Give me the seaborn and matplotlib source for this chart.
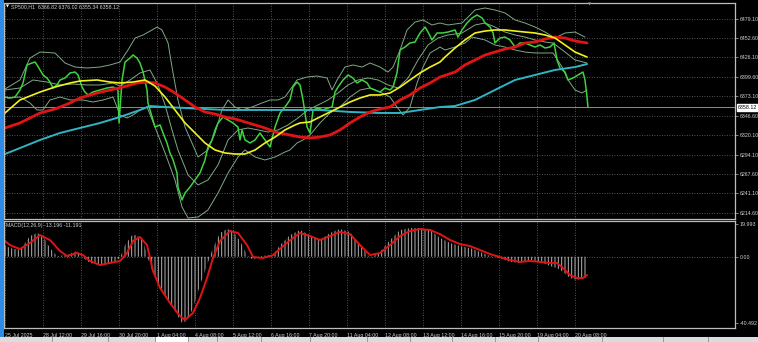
import matplotlib
matplotlib.use("Agg")
import matplotlib.pyplot as plt
import matplotlib.transforms as mtransforms
from matplotlib.patches import Rectangle
import seaborn as sns

# ---------------- data (bar index = hourly bar number since 25 Jul 2025) ----------------
price_bar = [0, 3.7, 7.4, 11, 13.3, 16.2, 19.9, 22.1, 23.6, 25.8, 28, 30.9, 33.1, 35.4, 38.3, 40.5, 44.2,
             47.9, 51.6, 53.8, 56.7, 58.9, 61.1, 64.8, 70, 75.1, 79.6, 83.2, 84, 86.2, 88.4, 92.1, 94.3,
             97.2, 99.4, 101.7, 104.6, 105.3, 108.3, 110.5, 114.2, 116.4, 119.3, 121.5, 123.8, 126.7,
             127.4, 130.4, 132.6, 136.3, 140, 143.6, 147.3, 149.5, 152.5, 154.7, 156.9, 160.6, 164.3,
             167.9, 171.6, 173.1, 174.6, 176.8, 180.5, 184.2, 187.8, 191.5, 195.2, 198.9, 202.6, 206.2,
             209.9, 212.1, 215.1, 217.3, 219.5, 222.5, 224.7, 226.9, 230.6, 234.2, 237.9, 240.9, 243.1,
             245.3, 249, 252.7, 256.3, 259.3, 263, 266.7, 268.9, 272.5, 276.2, 279.9, 283.6, 285.8,
             288.7, 291, 294.6, 298.3, 302, 305.7, 309.4, 311.6, 314.5, 318.2, 321.9, 326.3, 331.5,
             333.7, 336.6, 340.3, 344, 347.7, 351.4, 353.6, 357.3, 359.5, 360.9, 364.6, 368.3, 372,
             375.7, 379.3, 383, 386.7, 390.4, 394.1, 397.8, 401.4, 404.4, 406.6, 408.8, 412.5, 414.7,
             418.4, 422.1, 425.7, 427.2, 428.7, 429.4]
price_val = [6372.3, 6371.0, 6372.3, 6381.9, 6391.4, 6415.9, 6418.6, 6419.9, 6415.9, 6409.1, 6402.3,
             6398.2, 6392.7, 6384.6, 6388.7, 6395.5, 6398.2, 6405.0, 6406.3, 6402.3, 6385.9, 6379.1,
             6375.1, 6379.1, 6381.9, 6384.6, 6385.9, 6381.9, 6337.0, 6395.5, 6419.9, 6425.4, 6429.5,
             6425.4, 6418.6, 6406.3, 6381.9, 6364.2, 6345.2, 6331.5, 6334.3, 6323.4, 6309.8, 6296.2,
             6286.7, 6269.0, 6249.9, 6232.3, 6241.8, 6249.9, 6259.5, 6269.0, 6286.7, 6304.3, 6313.9,
             6327.5, 6337.0, 6345.2, 6341.1, 6337.0, 6331.5, 6313.9, 6327.5, 6313.9, 6309.8, 6313.9,
             6323.4, 6313.9, 6304.3, 6331.5, 6350.6, 6358.7, 6368.3, 6385.9, 6392.7, 6388.7, 6368.3,
             6331.5, 6323.4, 6354.7, 6357.4, 6354.7, 6357.4, 6358.7, 6379.1, 6385.9, 6395.5, 6402.3,
             6398.2, 6391.4, 6395.5, 6391.4, 6384.6, 6381.9, 6379.1, 6384.6, 6381.9, 6385.9, 6405.0,
             6436.3, 6440.3, 6445.8, 6447.1, 6459.4, 6467.5, 6460.7, 6449.9, 6459.4, 6459.4, 6460.7,
             6463.5, 6453.9, 6463.5, 6473.0, 6479.8, 6483.9, 6479.8, 6473.0, 6467.5, 6459.4, 6445.8,
             6452.6, 6453.9, 6449.9, 6440.3, 6445.8, 6445.8, 6443.1, 6440.3, 6443.1, 6439.0, 6440.3,
             6445.8, 6422.7, 6411.8, 6406.3, 6395.5, 6398.2, 6402.3, 6406.3, 6395.5, 6372.3, 6358.12]

yellow_bar = [0, 11, 25.8, 36.8, 47.9, 55.2, 67.8, 77.3, 84.7, 94.3, 103.1, 110.5, 117.9, 125.2, 132.6,
              140, 147.3, 154.7, 162.1, 169.4, 176.8, 184.2, 191.5, 198.9, 206.2, 213.6, 217.3, 224.7,
              232, 239.4, 246.8, 254.1, 261.5, 268.9, 276.2, 283.6, 291, 298.3, 305.7, 313.1, 320.4,
              324.1, 331.5, 338.8, 346.2, 353.6, 360.9, 368.3, 375.7, 383, 390.4, 397.8, 405.1, 412.5,
              419.9, 428.7]
yellow_val = [6350.6, 6368.3, 6379.1, 6385.9, 6391.4, 6394.1, 6395.5, 6392.7, 6391.4, 6392.7, 6395.5,
              6387.3, 6372.3, 6354.7, 6337.0, 6323.4, 6309.8, 6300.3, 6296.2, 6294.8, 6294.8, 6300.3,
              6309.8, 6317.9, 6327.5, 6334.3, 6337.0, 6338.4, 6345.2, 6352.0, 6358.7, 6365.5, 6371.0,
              6375.1, 6375.1, 6377.8, 6385.9, 6395.5, 6405.0, 6413.1, 6419.9, 6426.7, 6439.0, 6449.9,
              6459.4, 6462.1, 6463.5, 6463.5, 6462.1, 6460.7, 6459.4, 6456.7, 6452.6, 6443.1, 6433.5,
              6426.7]

red_bar = [0, 11, 25.8, 36.8, 47.9, 55.2, 67.8, 77.3, 86.9, 97.2, 104.6, 110.5, 117.9, 125.2, 132.6,
           140, 147.3, 154.7, 162.1, 169.4, 176.8, 184.2, 191.5, 198.9, 206.2, 213.6, 217.3, 224.7, 232,
           239.4, 246.8, 254.1, 261.5, 268.9, 276.2, 283.6, 291, 298.3, 305.7, 313.1, 320.4, 331.5,
           338.8, 346.2, 353.6, 360.9, 368.3, 375.7, 383, 390.4, 397.8, 405.1, 412.5, 419.9, 428.7]
red_val = [6330.2, 6337.0, 6350.6, 6356.0, 6364.2, 6371.0, 6377.8, 6381.9, 6385.9, 6391.4, 6392.7,
           6391.4, 6385.9, 6377.8, 6368.3, 6358.7, 6352.0, 6349.2, 6345.2, 6342.5, 6338.4, 6334.3,
           6330.2, 6324.7, 6322.0, 6319.3, 6317.9, 6316.6, 6317.9, 6320.7, 6327.5, 6337.0, 6345.2,
           6352.0, 6356.0, 6358.7, 6368.3, 6375.1, 6384.6, 6391.4, 6399.5, 6406.3, 6415.9, 6422.7,
           6429.5, 6433.5, 6437.6, 6440.3, 6445.8, 6447.1, 6451.2, 6453.9, 6452.6, 6448.5, 6445.8]

cyan_bar = [0, 11, 25.8, 40.5, 55.2, 70, 84.7, 99.4, 106.8, 117.9, 132.6, 147.3, 162.1, 191.5, 213.6,
            232, 254.1, 276.2, 291, 305.7, 320.4, 331.5, 346.2, 360.9, 375.7, 390.4, 405.1, 419.9, 428.7]
cyan_val = [6294.8, 6302.9, 6313.9, 6323.4, 6330.2, 6337.0, 6345.2, 6354.7, 6360.1, 6358.7, 6357.4,
            6356.0, 6354.7, 6354.7, 6354.7, 6354.7, 6352.0, 6350.6, 6350.6, 6354.7, 6358.7, 6360.1,
            6368.3, 6381.9, 6395.5, 6402.3, 6409.1, 6413.1, 6417.2]

bb_up_bar = [0, 11, 18.4, 25.8, 36.8, 44.2, 51.6, 60.4, 70, 77.3, 84.7, 90.6, 95.8, 101.7, 108.3, 112,
             115.6, 120.1, 123, 127.4, 132.6, 137.7, 142.2, 149.5, 154.7, 159.8, 164.3, 169.4, 174.6,
             181.9, 189.3, 195.2, 201.1, 206.2, 215.1, 222.5, 229.8, 237.2, 240.9, 244.6, 250.4, 256.3,
             263, 268.9, 276.2, 282.1, 285.8, 291, 296.1, 302, 307.9, 314.5, 320.4, 326.3, 336.6, 341.1,
             346.2, 353.6, 360.9, 368.3, 375.7, 383, 390.4, 397.8, 405.1, 412.5, 419.9, 427.2]
bb_up_val = [6383.2, 6395.5, 6425.4, 6433.5, 6432.2, 6418.6, 6413.1, 6411.8, 6413.1, 6415.9, 6419.9,
             6436.3, 6452.6, 6456.7, 6463.5, 6467.5, 6463.5, 6445.8, 6413.1, 6368.3, 6331.5, 6309.8,
             6290.7, 6300.3, 6323.4, 6354.7, 6368.3, 6358.7, 6354.7, 6358.7, 6364.2, 6368.3, 6368.3,
             6372.3, 6395.5, 6399.5, 6400.9, 6398.2, 6381.9, 6395.5, 6413.1, 6415.9, 6413.1, 6418.6,
             6413.1, 6406.3, 6413.1, 6436.3, 6463.5, 6474.3, 6477.1, 6470.3, 6473.0, 6470.3, 6473.0,
             6481.1, 6490.7, 6493.4, 6490.7, 6486.6, 6477.1, 6473.0, 6467.5, 6460.7, 6452.6, 6459.4,
             6460.7, 6453.9]

bb_mid_bar = [0, 11, 20.6, 30.9, 40.5, 50.1, 60.4, 70, 79.6, 84.7, 92.1, 99.4, 106.8, 112.7, 117.9,
              123, 127.4, 134.8, 142.2, 149.5, 156.9, 164.3, 171.6, 179, 186.4, 193.7, 201.1, 208.4,
              215.8, 223.2, 230.6, 237.9, 245.3, 252.7, 260, 267.4, 274.8, 282.1, 289.5, 296.9, 304.2,
              311.6, 319, 326.3, 336.6, 346.2, 353.6, 360.9, 368.3, 375.7, 383, 390.4, 397.8, 403.7,
              412.5, 419.9, 428.7]
bb_mid_val = [6381.9, 6384.6, 6395.5, 6392.7, 6388.7, 6390.0, 6388.7, 6388.7, 6391.4, 6387.3, 6395.5,
              6405.0, 6409.1, 6388.7, 6361.5, 6327.5, 6300.3, 6266.3, 6252.7, 6259.5, 6279.9, 6313.9,
              6327.5, 6330.2, 6327.5, 6324.7, 6327.5, 6334.3, 6343.8, 6354.7, 6361.5, 6368.3, 6377.8,
              6388.7, 6395.5, 6398.2, 6395.5, 6388.7, 6384.6, 6398.2, 6422.7, 6443.1, 6452.6, 6456.7,
              6459.4, 6470.3, 6473.0, 6467.5, 6460.7, 6456.7, 6453.9, 6449.9, 6447.1, 6445.8, 6433.5,
              6422.7, 6418.6]

bb_lo_bar = [1.5, 11, 18.4, 23.6, 28, 33.1, 40.5, 47.9, 57.5, 64.8, 72.2, 79.6, 84.7, 89.9, 94.3, 99.4,
             104.6, 110.5, 117.9, 125.2, 130.4, 134.8, 142.2, 149.5, 156.9, 164.3, 171.6, 176.8, 184.2,
             191.5, 198.9, 206.2, 209.9, 215.1, 219.5, 224.7, 232, 239.4, 246.8, 254.1, 261.5, 268.9,
             276.2, 283.6, 288.7, 293.2, 298.3, 303.5, 307.9, 313.1, 320.4, 324.1, 331.5, 338.8, 344,
             353.6, 360.9, 368.3, 375.7, 383, 390.4, 403.7, 410.3, 414.7, 419.9, 425, 428.7]
bb_lo_val = [6371.0, 6372.3, 6364.2, 6354.7, 6354.7, 6368.3, 6372.3, 6368.3, 6368.3, 6365.5, 6368.3,
             6372.3, 6347.9, 6343.8, 6347.9, 6354.7, 6358.7, 6331.5, 6296.2, 6259.5, 6222.7, 6207.8,
             6209.1, 6218.6, 6241.8, 6269.0, 6290.7, 6300.3, 6290.7, 6286.7, 6290.7, 6297.5, 6300.3,
             6309.8, 6313.9, 6320.7, 6337.0, 6350.6, 6358.7, 6372.3, 6381.9, 6384.6, 6379.1, 6372.3,
             6358.7, 6347.9, 6358.7, 6391.4, 6413.1, 6432.2, 6440.3, 6436.3, 6440.3, 6445.8, 6453.9,
             6449.9, 6443.1, 6440.3, 6436.3, 6433.5, 6432.2, 6432.2, 6413.1, 6395.5, 6381.9, 6377.8,
             6381.9]

macd_bar = [0, 3.7, 11, 18.4, 23.6, 28, 33.1, 38.3, 45.7, 53, 57.5, 62.6, 70, 79.6, 84.7, 88.4, 93.6,
            97.2, 101.7, 106.8, 112, 119.3, 126.7, 130.4, 134.1, 138.5, 143.6, 148.8, 153.2, 158.4,
            163.5, 167.9, 173.1, 178.3, 182.7, 187.8, 197.4, 202.6, 209.9, 217.3, 224.7, 232, 239.4,
            246.8, 254.1, 261.5, 268.9, 276.2, 283.6, 291, 298.3, 305.7, 313.1, 320.4, 327.8, 335.2,
            342.5, 349.9, 357.3, 364.6, 372, 379.3, 386.7, 394.1, 401.4, 406.6, 411, 416.2, 421.3,
            425.7, 428.7]
macd_val = [7.1, 5.3, 4.1, 12.6, 14.5, 12.6, 5.3, 0.4, 1.0, 3.5, -0.8, -3.8, -5.1, -3.8, -0.8, 7.1,
            13.2, 13.2, 9.6, -5.1, -14.8, -25.2, -35.5, -40.4, -39.2, -31.3, -17.3, -5.1, 5.3, 14.5,
            16.9, 15.7, 9.6, 1.0, -2.0, 0.4, 1.0, 7.1, 13.2, 16.3, 13.2, 10.2, 14.5, 16.9, 15.1, 7.1,
            -0.8, 2.9, 10.2, 16.3, 17.5, 17.5, 16.3, 11.4, 8.4, 6.5, 5.3, 2.9, 0.4, -0.8, -3.2, -3.8,
            -2.0, -3.2, -5.7, -6.9, -9.3, -13.0, -14.2, -13.0, -13.196]

signal_bar = [0, 3.7, 11, 18.4, 25.8, 33.1, 40.5, 45.7, 53, 57.5, 62.6, 70, 77.3, 84.7, 89.9, 94.3,
              99.4, 104.6, 109, 114.2, 121.5, 128.9, 132.6, 138.5, 143.6, 148.8, 153.2, 158.4, 165.7,
              171.6, 178.3, 182.7, 190, 197.4, 204.8, 212.1, 217.3, 224.7, 232, 239.4, 246.8, 254.1,
              261.5, 268.9, 276.2, 283.6, 291, 298.3, 305.7, 313.1, 320.4, 327.8, 335.2, 342.5, 349.9,
              357.3, 364.6, 372, 379.3, 386.7, 394.1, 401.4, 406.6, 411, 416.2, 421.3, 425.7, 428.7]
signal_val = [9.6, 7.1, 4.7, 8.4, 13.2, 10.2, 3.5, 0.4, 2.3, 1.0, -2.6, -5.1, -3.8, -2.6, 2.3, 9.6,
              12.0, 7.1, -8.7, -19.1, -28.2, -36.2, -38.6, -34.3, -25.2, -13.0, -0.8, 9.6, 15.7, 14.5,
              7.1, -0.2, -0.8, 1.0, 6.5, 11.4, 14.5, 12.6, 10.2, 12.6, 15.1, 13.8, 7.1, 1.0, 2.3, 7.1,
              12.6, 15.7, 16.9, 16.3, 13.8, 10.2, 7.7, 6.5, 4.1, 1.6, -0.2, -2.0, -3.2, -2.6, -3.2,
              -3.8, -3.8, -6.9, -11.2, -13.0, -13.0, -11.191]

price_ticks = [6479.10, 6452.60, 6426.10, 6399.60, 6373.10, 6346.60, 6320.10, 6294.10, 6267.60,
               6241.10, 6214.60]
macd_ticks = [19.993, 0.0, -40.492]
macd_tick_labels = ["19.993", "0.00", "-40.492"]
time_ticks = [0, 28, 56, 84, 112, 140, 168, 196, 224, 252, 280, 308, 336, 364, 392, 420]
time_labels = ["25 Jul 2025", "28 Jul 12:00", "29 Jul 16:00", "30 Jul 20:00", "1 Aug 04:00",
               "4 Aug 08:00", "5 Aug 12:00", "6 Aug 16:00", "7 Aug 20:00", "11 Aug 04:00",
               "12 Aug 08:00", "13 Aug 12:00", "14 Aug 16:00", "15 Aug 20:00", "19 Aug 04:00",
               "20 Aug 08:00"]
last_price = 6358.12
header_main = "SP500,H1  6366.82 6376.02 6355.34 6358.12"
header_macd = "MACD(12,26,9) -13.196 -11.191"

# ---------------- drawing ----------------
sns.set_theme(style="dark")
FONT = ["Liberation Sans Narrow", "Liberation Sans", "DejaVu Sans"]
plt.rcParams["font.family"] = FONT
plt.rcParams["hatch.color"] = "#b4b4b4"
plt.rcParams["hatch.linewidth"] = 0.7

W, H = 758, 342
fig = plt.figure(figsize=(W / 100, H / 100), dpi=100, facecolor="black")


def box(x0, y0, x1, y1):
    return [x0 / W, 1 - y1 / H, (x1 - x0) / W, (y1 - y0) / H]


ax = fig.add_axes(box(4, 3, 735, 219))
axm = fig.add_axes(box(4, 221, 735, 328))

fs = 3.8
txt_col = "#d2d2d2"
grid_kw = dict(color="#6e6e6e", linestyle=(0, (1, 2)), linewidth=0.6)

for a in (ax, axm):
    a.set_facecolor("black")
    for s in a.spines.values():
        s.set_color("#bdbdbd")
        s.set_linewidth(0.9)
    a.set_xlim(-0.74, 537.7)
    a.set_xticks(time_ticks)
    a.grid(False)
    for t in time_ticks:
        a.axvline(t, zorder=0, **grid_kw)
    a.yaxis.tick_right()
    a.tick_params(axis="y", length=2, width=0.6, color="#9a9a9a", labelcolor=txt_col,
                  labelsize=fs, pad=1.2)

# main pane
ax.set_ylim(6206.4, 6500.2)
ax.set_yticks(price_ticks)
ax.set_yticklabels([f"{v:.2f}" for v in price_ticks])
for v in price_ticks:
    ax.axhline(v, zorder=0, **grid_kw)
ax.tick_params(axis="x", length=0, labelbottom=False)

ax.axhline(last_price, color="#8c8c8c", linewidth=0.7, zorder=1)

line_kw = dict(ax=ax, estimator=None, sort=False, legend=False)
sns.lineplot(x=bb_up_bar, y=bb_up_val, color="#7fa986", linewidth=0.7, **line_kw)
sns.lineplot(x=bb_mid_bar, y=bb_mid_val, color="#7fa986", linewidth=0.7, **line_kw)
sns.lineplot(x=bb_lo_bar, y=bb_lo_val, color="#7fa986", linewidth=0.7, **line_kw)
sns.lineplot(x=price_bar, y=price_val, color="#3fd23f", linewidth=1.1, **line_kw)
sns.lineplot(x=cyan_bar, y=cyan_val, color="#2fb4c4", linewidth=1.4, **line_kw)
sns.lineplot(x=red_bar, y=red_val, color="#e01414", linewidth=2.0, **line_kw)
sns.lineplot(x=yellow_bar, y=yellow_val, color="#f2f21e", linewidth=1.2, **line_kw)
ax.set_xlabel("")
ax.set_ylabel("")

trans = mtransforms.blended_transform_factory(ax.transAxes, ax.transData)
ax.text(1.004, last_price, f"{last_price:.2f}", transform=trans, fontsize=fs, color="black",
        va="center", ha="left",
        bbox=dict(boxstyle="square,pad=0.2", facecolor="white", edgecolor="white"))

# MACD pane
axm.set_ylim(-43.5, 21.8)
axm.set_yticks(macd_ticks)
axm.set_yticklabels(macd_tick_labels)
axm.axhline(0, zorder=0, **grid_kw)
axm.fill_between(macd_bar, 0, macd_val, facecolor="none", edgecolor="#b4b4b4",
                 hatch="|||||", linewidth=0, zorder=2)
sns.lineplot(x=signal_bar, y=signal_val, ax=axm, color="#e01414", linewidth=1.4,
             estimator=None, sort=False, legend=False)
axm.set_xticklabels(time_labels)
axm.tick_params(axis="x", length=2, width=0.6, color="#9a9a9a", labelcolor=txt_col,
                labelsize=fs, pad=1.5)
for lab in axm.get_xticklabels():
    lab.set_horizontalalignment("left")
axm.set_xlabel("")
axm.set_ylabel("")

# headers
fig.text(6 / W, 1 - 7 / H, "\u25BC", fontsize=2.8, color="white", va="center", ha="left",
         family=["DejaVu Sans"])
fig.text(11 / W, 1 - 7 / H, header_main, fontsize=fs, color=txt_col, va="center", ha="left")
fig.text(6 / W, 1 - 226 / H, header_macd, fontsize=fs, color=txt_col, va="center", ha="left")
fig.text(589 / W, 1 - 4 / H, "\u25BC", fontsize=2.8, color="#9a9a9a", va="center", ha="center",
         family=["DejaVu Sans"])

# window chrome: blue left strip and bottom tab bar
fig.patches.append(Rectangle((0, 5 / H), 3.5 / W, 1 - 5 / H, transform=fig.transFigure,
                             facecolor="#2f8ce6", edgecolor="none"))
fig.patches.append(Rectangle((0, 0), 1, 5 / H, transform=fig.transFigure,
                             facecolor="#dcdcdc", edgecolor="none"))
fig.patches.append(Rectangle((155 / W, 0), 33 / W, 5 / H, transform=fig.transFigure,
                             facecolor="#ffffff", edgecolor="none"))
for xd in [52, 108, 155, 188, 217, 261, 310, 367, 410, 452, 495, 538, 602, 663, 708]:
    fig.patches.append(Rectangle((xd / W, 0), 0.8 / W, 5 / H, transform=fig.transFigure,
                                 facecolor="#9a9a9a", edgecolor="none"))

fig.savefig("out.png", dpi=100, facecolor="black")
